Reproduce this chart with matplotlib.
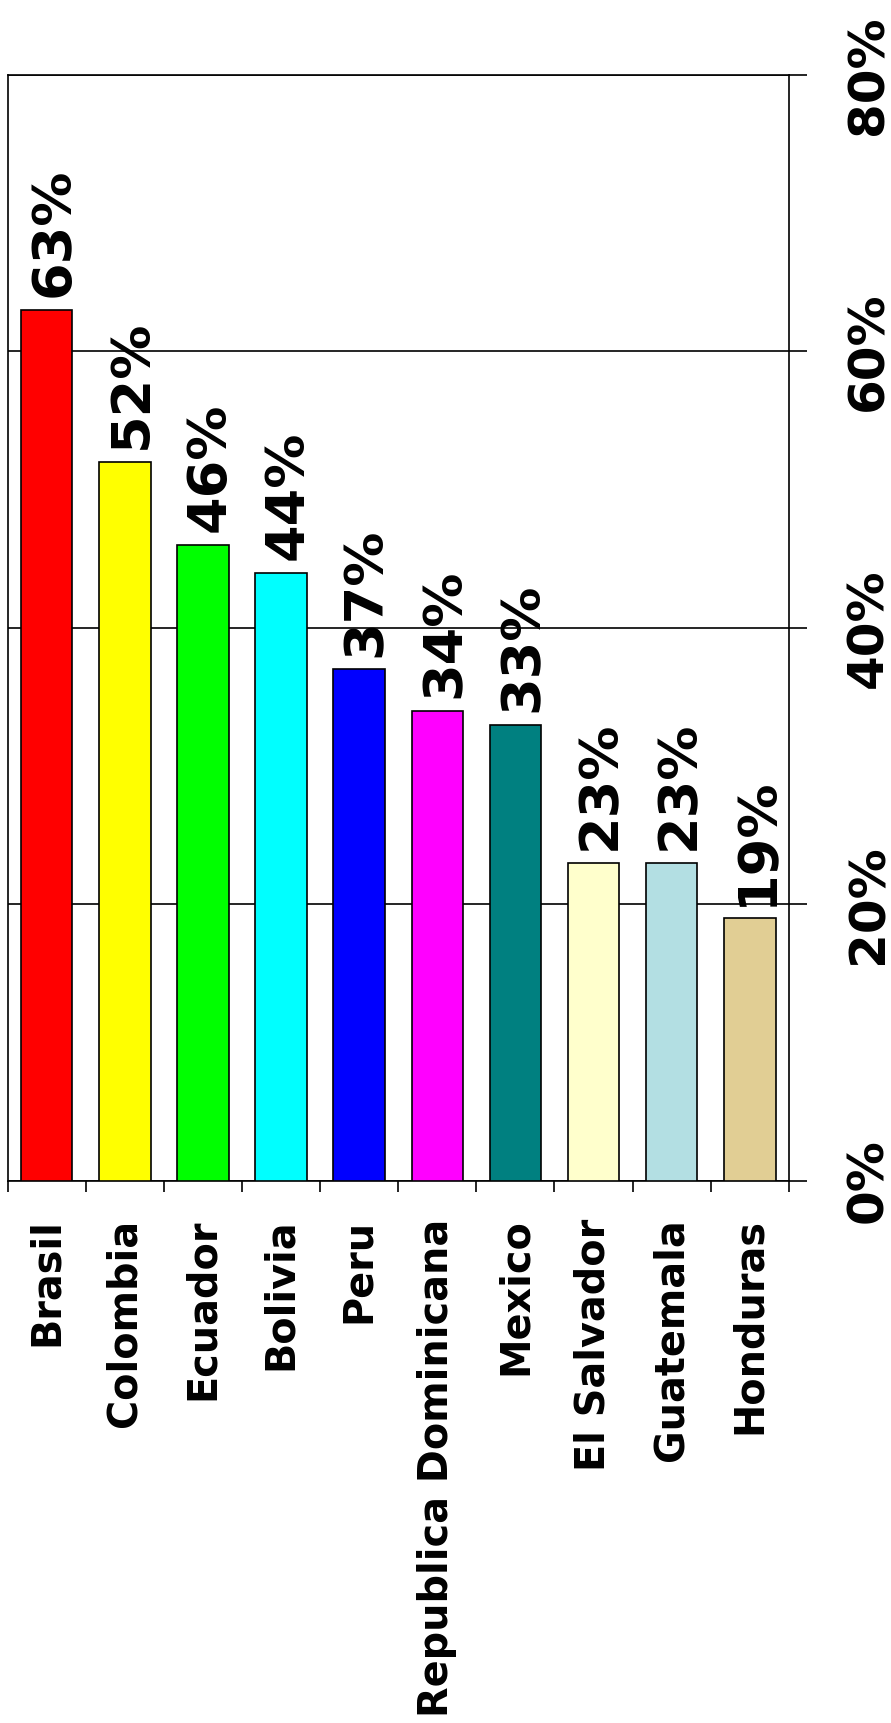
import matplotlib
matplotlib.use("Agg")
import matplotlib.pyplot as plt
import numpy as np
from matplotlib.ticker import FixedLocator, FuncFormatter

countries = ["Brasil", "Colombia", "Ecuador", "Bolivia", "Peru",
             "Republica Dominicana", "Mexico", "El Salvador", "Guatemala", "Honduras"]
values = [63, 52, 46, 44, 37, 34, 33, 23, 23, 19]
colors = ["#FF0000", "#FFFF00", "#00FF00", "#00FFFF", "#0000FF",
          "#FF00FF", "#008080", "#FFFFCC", "#B3DFE3", "#E1CE94"]
yticks = [0, 20, 40, 60, 80]

plt.rcParams["font.family"] = "DejaVu Sans"
plt.rcParams["font.weight"] = "bold"

fig = plt.figure(figsize=(8.91, 17.23), dpi=100)
ax = fig.add_axes([0.0086, 0.3146, 0.8767, 0.642])

x = np.arange(len(countries))
ax.bar(x, values, width=0.66, color=colors, edgecolor="black", linewidth=1.2, zorder=3)

for xi, v in zip(x, values):
    ax.annotate(f"{v}%", (xi, v), xytext=(5, 9), textcoords="offset points",
                rotation=90, ha="center", va="bottom", fontsize=39, fontweight="bold", zorder=4)

ax.set_xlim(-0.5, len(countries) - 0.5)
ax.set_ylim(0, 80)

# y axis on the right, rotated labels
ax.yaxis.tick_right()
ax.yaxis.set_major_locator(FixedLocator(yticks))
ax.yaxis.set_major_formatter(FuncFormatter(lambda v, p: f"{v:.0f}%"))
ax.tick_params(axis="y", direction="out", length=13, width=1.2, pad=27, labelsize=36,
               labelrotation=90)
for lab in ax.get_yticklabels():
    lab.set_va("center")
    lab.set_fontweight("bold")
ax.grid(True, axis="y", color="black", linewidth=1.2, zorder=1)

# x: labels at centres, tick marks at category boundaries
ax.set_xticks(x)
ax.set_xticklabels(countries, rotation=90, fontsize=28.6, fontweight="bold", va="top", ha="center")
ax.tick_params(axis="x", which="major", length=0, pad=27)
ax.set_xticks(np.arange(-0.5, len(countries)), minor=True)
ax.tick_params(axis="x", which="minor", direction="out", length=8, width=1.2)

for s in ax.spines.values():
    s.set_linewidth(1.2)
    s.set_color("black")

fig.savefig("out.png", dpi=100)
